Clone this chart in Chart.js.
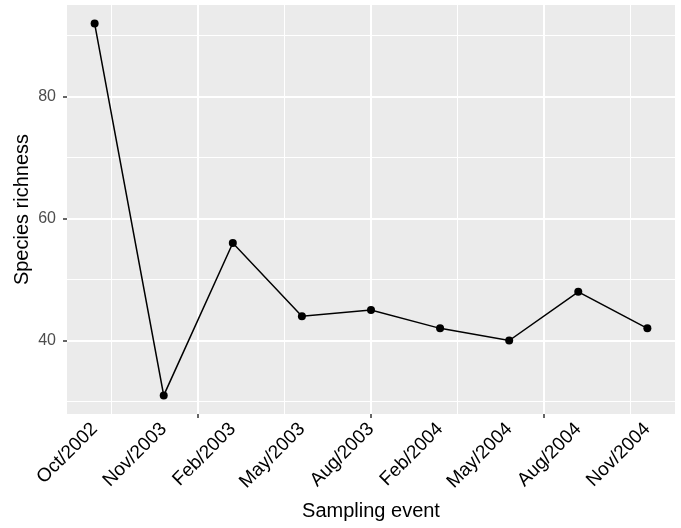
<!DOCTYPE html>
<html>
<head>
<meta charset="utf-8">
<script src="https://cdn.jsdelivr.net/npm/chart.js@4/dist/chart.umd.min.js"></script>
<style>
  html, body { margin: 0; padding: 0; background: #ffffff; }
  #wrap { width: 681px; height: 528px; }
</style>
</head>
<body>
<div id="wrap"><canvas id="mychart" width="681" height="528"></canvas></div>
<script>
// sampling events, in the order they appear on the axis
var categories = ['Oct/2002', 'Nov/2003', 'Feb/2003', 'May/2003', 'Aug/2003', 'Feb/2004', 'May/2004', 'Aug/2004', 'Nov/2004'];
var richness = [92, 31, 56, 44, 45, 42, 40, 48, 42];

// x is a numeric scale (event 1..9), grid breaks like ggplot's defaults
var xGridTicks = [1.25, 2.5, 3.75, 5, 6.25, 7.5, 8.75];
var xMajorTicks = [2.5, 5, 7.5];
var yGridTicks = [30, 40, 50, 60, 70, 80, 90];
var yMajorTicks = [40, 60, 80];

var points = richness.map(function (v, i) {
	return { x: i + 1, y: v };
});

function isLabelPos(v) {
	return Number.isInteger(v) && v >= 1 && v <= categories.length;
}

// grey panel behind grid lines
var panelBg = {
	id: 'panelBg',
	beforeDraw: function (chart) {
		var a = chart.chartArea;
		var ctx = chart.ctx;
		ctx.save();
		ctx.fillStyle = '#ebebeb';
		ctx.fillRect(a.left, a.top, a.right - a.left, a.bottom - a.top);
		ctx.restore();
	}
};

var fontFamily = 'Liberation Sans, Arial, sans-serif';

var context = document.getElementById('mychart').getContext('2d');
var chart = new Chart(context, {
	type: 'line',
	data: {
		datasets: [{
			data: points,
			borderColor: '#000000',
			borderWidth: 1.5,
			backgroundColor: '#000000',
			pointRadius: 4,
			pointHoverRadius: 4,
			pointBorderWidth: 0,
			tension: 0
		}]
	},
	options: {
		responsive: false,
		animation: false,
		events: [],
		layout: { padding: { top: 5, right: 6, left: 0, bottom: 0 } },
		plugins: {
			legend: { display: false },
			tooltip: { enabled: false }
		},
		scales: {
			x: {
				type: 'linear',
				min: 0.6,
				max: 9.4,
				afterBuildTicks: function (scale) {
					var vals = xGridTicks.slice();
					categories.forEach(function (c, i) {
						if (vals.indexOf(i + 1) < 0) vals.push(i + 1);
					});
					vals.sort(function (a, b) { return a - b; });
					scale.ticks = vals.map(function (v) { return { value: v }; });
				},
				afterFit: function (scale) {
					scale.height = 114;
					scale.paddingLeft = 0;
					scale.paddingRight = 0;
				},
				border: { display: false },
				grid: {
					color: function (ctx) {
						return xGridTicks.indexOf(ctx.tick.value) >= 0 ? '#ffffff' : 'rgba(0,0,0,0)';
					},
					lineWidth: function (ctx) {
						return xMajorTicks.indexOf(ctx.tick.value) >= 0 ? 2 : 1;
					},
					tickColor: function (ctx) {
						return xMajorTicks.indexOf(ctx.tick.value) >= 0 ? '#333333' : 'rgba(0,0,0,0)';
					},
					tickWidth: 1.5,
					tickLength: 4
				},
				ticks: {
					autoSkip: false,
					minRotation: 45,
					maxRotation: 45,
					padding: 0,
					color: '#000000',
					font: { family: fontFamily, size: 19 },
					callback: function (value) {
						return isLabelPos(value) ? categories[value - 1] : '';
					}
				},
				title: {
					display: true,
					text: 'Sampling event',
					color: '#000000',
					padding: { top: 0, bottom: 5 },
					font: { family: fontFamily, size: 20 }
				}
			},
			y: {
				type: 'linear',
				min: 27.95,
				max: 95.05,
				afterBuildTicks: function (scale) {
					scale.ticks = yGridTicks.map(function (v) { return { value: v }; });
				},
				afterFit: function (scale) {
					scale.width = 67;
					scale.paddingTop = 0;
					scale.paddingBottom = 0;
				},
				border: { display: false },
				grid: {
					color: '#ffffff',
					lineWidth: function (ctx) {
						return yMajorTicks.indexOf(ctx.tick.value) >= 0 ? 2 : 1;
					},
					tickColor: function (ctx) {
						return yMajorTicks.indexOf(ctx.tick.value) >= 0 ? '#333333' : 'rgba(0,0,0,0)';
					},
					tickWidth: 1.5,
					tickLength: 4
				},
				ticks: {
					padding: 7,
					color: '#4d4d4d',
					font: { family: fontFamily, size: 16 },
					callback: function (value) {
						return yMajorTicks.indexOf(value) >= 0 ? String(value) : '';
					}
				},
				title: {
					display: true,
					text: 'Species richness',
					color: '#000000',
					padding: { top: 10, bottom: 0 },
					font: { family: fontFamily, size: 20 }
				}
			}
		}
	},
	plugins: [panelBg]
});
</script>
</body>
</html>
